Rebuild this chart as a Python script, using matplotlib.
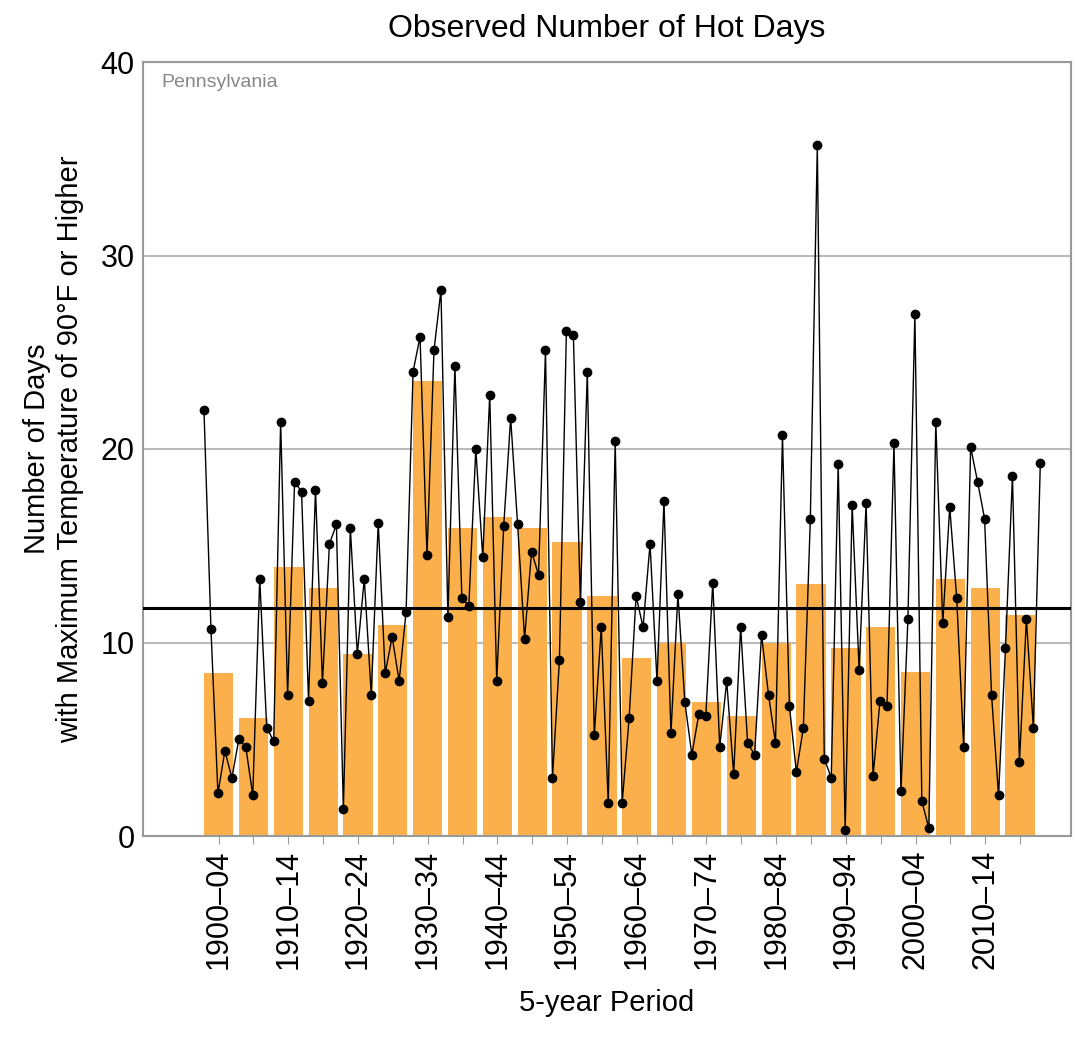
import numpy as np
import matplotlib
matplotlib.use("Agg")
import matplotlib.pyplot as plt

plt.rcParams["font.family"] = ["Liberation Sans", "DejaVu Sans"]

# Annual number of hot days, 1900-2020
YEARS = list(range(1900, 2021))
HOT_DAYS = [
    22.0, 10.7, 2.2, 4.4, 3.0, 5.0, 4.6, 2.1, 13.3, 5.6,
    4.9, 21.4, 7.3, 18.3, 17.8, 7.0, 17.9, 7.9, 15.1, 16.1,
    1.4, 15.9, 9.4, 13.3, 7.3, 16.2, 8.4, 10.3, 8.0, 11.6,
    24.0, 25.8, 14.5, 25.1, 28.2, 11.3, 24.3, 12.3, 11.9, 20.0,
    14.4, 22.8, 8.0, 16.0, 21.6, 16.1, 10.2, 14.7, 13.5, 25.1,
    3.0, 9.1, 26.1, 25.9, 12.1, 24.0, 5.2, 10.8, 1.7, 20.4,
    1.7, 6.1, 12.4, 10.8, 15.1, 8.0, 17.3, 5.3, 12.5, 6.9,
    4.2, 6.3, 6.2, 13.1, 4.6, 8.0, 3.2, 10.8, 4.8, 4.2,
    10.4, 7.3, 4.8, 20.7, 6.7, 3.3, 5.6, 16.4, 35.7, 4.0,
    3.0, 19.2, 0.3, 17.1, 8.6, 17.2, 3.1, 7.0, 6.7, 20.3,
    2.3, 11.2, 27.0, 1.8, 0.4, 21.4, 11.0, 17.0, 12.3, 4.6,
    20.1, 18.3, 16.4, 7.3, 2.1, 9.7, 18.6, 3.8, 11.2, 5.6,
    19.3,
]

# 5-year period averages
PERIOD_START = list(range(1900, 2020, 5))
PERIOD_MEAN = [
    8.4, 6.1, 13.9, 12.8, 9.4, 10.9, 23.5, 15.9, 16.5, 15.9, 15.2, 12.4,
    9.2, 10.0, 6.9, 6.2, 10.0, 13.0, 9.7, 10.8, 8.5, 13.3, 12.8, 11.4,
]
PERIOD_LABELS = [f"{s}\u2013{str(s + 4)[-2:]}" for s in PERIOD_START]
LONG_TERM_AVG = 11.8

fig = plt.figure(figsize=(10.75, 10.51), dpi=100)
ax = fig.add_axes([143 / 1075, 1 - 836 / 1051, 928 / 1075, 774 / 1051])

ax.bar(PERIOD_START, PERIOD_MEAN, width=4.2, align="edge", color="#fbb04b", zorder=2)
ax.plot(YEARS, HOT_DAYS, color="black", lw=1, marker="o", ms=6, zorder=4)
ax.axhline(LONG_TERM_AVG, color="black", lw=2.2, zorder=3)

ax.set_xlim(1891.25, 2024.4)
ax.set_ylim(0, 40)
ax.set_yticks([0, 10, 20, 30, 40])
ax.yaxis.grid(True, color="#bbbbbb", lw=1.5, zorder=0)
ax.set_axisbelow(True)

centers = [s + 2.1 for s in PERIOD_START]
ax.set_xticks(centers)
ax.set_xticklabels([lab if i % 2 == 0 else "" for i, lab in enumerate(PERIOD_LABELS)],
                   rotation=90, fontsize=22)
ax.tick_params(axis="y", labelsize=22, length=0, pad=6)
ax.tick_params(axis="x", color="#999999", length=6, pad=4)
for sp in ax.spines.values():
    sp.set_color("#999999")
    sp.set_linewidth(1.5)

ax.text(0.02, 0.985, "Pennsylvania", transform=ax.transAxes, color="#888888",
        fontsize=14, va="top", ha="left")
ax.set_title("Observed Number of Hot Days", fontsize=23, pad=18)
ax.set_xlabel("5-year Period", fontsize=21, labelpad=14)
ax.set_ylabel("Number of Days\nwith Maximum Temperature of 90\u00b0F or Higher",
              fontsize=21, labelpad=12)

fig.savefig("out.png", dpi=100)
